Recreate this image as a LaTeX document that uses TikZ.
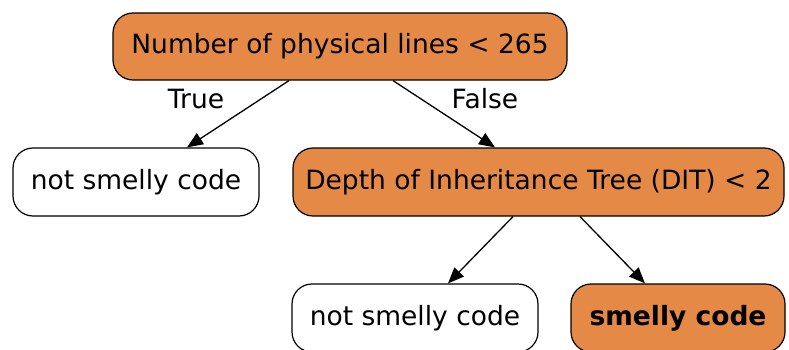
\documentclass[tikz,border=0pt]{standalone}
\usepackage{fontspec}
\setmainfont{DejaVu Sans}
\usetikzlibrary{arrows.meta,calc}
\definecolor{nodeorange}{RGB}{229,137,70}
\begin{document}
\begin{tikzpicture}[x=1pt,y=1pt,
  treenode/.style={draw=black, line width=1.2pt, rounded corners=20pt, inner sep=0pt,
    font=\fontsize{26.5}{31}\selectfont, text=black},
  orangebox/.style={treenode, fill=nodeorange},
  whitebox/.style={treenode, fill=white},
  conn/.style={line width=1.3pt, -{Triangle[length=16pt,width=13pt]}},
  edgelabel/.style={font=\fontsize{26.5}{31}\selectfont}
]
\useasboundingbox (0,0) rectangle (789,349);
\node[orangebox, minimum width=454pt, minimum height=67pt] (root) at (340,302.5) {Number of physical lines < 265};
\node[whitebox, minimum width=246pt, minimum height=68pt] (leftleaf) at (136,167) {not smelly code};
\node[orangebox, minimum width=491pt, minimum height=68pt] (dit) at (538.5,167) {Depth of Inheritance Tree (DIT) < 2};
\node[whitebox, minimum width=246pt, minimum height=68pt] (bl) at (415,31) {not smelly code};
\node[orangebox, minimum width=214pt, minimum height=68pt] (smelly) at (678,31) {\textbf{smelly code}};
\draw[conn] ($(root.south)+(-51,0)$) -- ($(leftleaf.north)+(51,0)$);
\draw[conn] ($(root.south)+(53,0)$) -- ($(dit.north)+(-43.5,0)$);
\draw[conn] ($(dit.south)+(-25.5,0)$) -- ($(bl.north)+(33,0)$);
\draw[conn] ($(dit.south)+(41.5,0)$) -- ($(smelly.north)+(-33,0)$);
\node[edgelabel] (truelbl) at (196,250) {True};
\node[edgelabel] (falselbl) at (485,250) {False};
\end{tikzpicture}
\end{document}
